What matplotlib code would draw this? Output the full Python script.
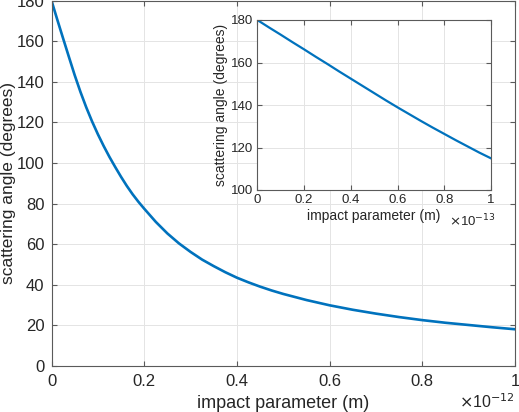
import matplotlib
matplotlib.use("Agg")
import matplotlib.pyplot as plt

# ---- data ----
# main panel: impact parameter in units of 1e-12 m, scattering angle in degrees
b_main = [0, 0.0125, 0.025, 0.0375, 0.05, 0.0625, 0.075, 0.0875, 0.1, 0.1125,
          0.125, 0.1375, 0.15, 0.1625, 0.175, 0.1875, 0.2, 0.225, 0.25, 0.275,
          0.3, 0.325, 0.35, 0.375, 0.4, 0.425, 0.45, 0.475, 0.5, 0.55, 0.6,
          0.65, 0.7, 0.75, 0.8, 0.85, 0.9, 0.95, 1.0]
theta_main = [180, 170.6, 161.4, 152.3, 143.3, 135.0, 127.4, 120.5, 114.2,
              108.4, 103.0, 98.0, 93.2, 88.7, 84.6, 80.9, 77.5, 71.0, 65.3,
              60.4, 56.2, 52.4, 49.2, 46.2, 43.5, 41.2, 39.1, 37.2, 35.5, 32.5,
              29.9, 27.7, 25.8, 24.1, 22.6, 21.3, 20.2, 19.1, 18.1]

# inset: impact parameter in units of 1e-13 m
b_inset = [0, 0.05, 0.1, 0.15, 0.2, 0.25, 0.3, 0.35, 0.4, 0.45, 0.5, 0.55,
           0.6, 0.65, 0.7, 0.75, 0.8, 0.85, 0.9, 0.95, 1.0]
theta_inset = [180, 176.5, 173.1, 169.6, 166.2, 162.7, 159.3, 155.8, 152.4,
               149.0, 145.6, 142.2, 138.9, 135.7, 132.5, 129.4, 126.4, 123.4,
               120.5, 117.6, 114.9]

main_xticks = [0, 0.2, 0.4, 0.6, 0.8, 1]
main_xticklabels = ["0", "0.2", "0.4", "0.6", "0.8", "1"]
main_yticks = [0, 20, 40, 60, 80, 100, 120, 140, 160, 180]
inset_xticks = [0, 0.2, 0.4, 0.6, 0.8, 1]
inset_xticklabels = ["0", "0.2", "0.4", "0.6", "0.8", "1"]
inset_yticks = [100, 120, 140, 160, 180]

xlabel = "impact parameter (m)"
ylabel = "scattering angle (degrees)"

# ---- style ----
plt.rcParams['font.family'] = ['Liberation Sans', 'DejaVu Sans']
LINE = '#0072BD'
TXT = '#262626'
SPINE = '#5a5a5a'
GRID = '#e4e4e4'

W, H = 519, 412
fig = plt.figure(figsize=(W / 100, H / 100), dpi=100)


def style(ax, fs):
    for s in ax.spines.values():
        s.set_color(SPINE)
        s.set_linewidth(0.8)
    ax.tick_params(direction='in', which='both', top=True, right=True,
                   colors=SPINE, labelcolor=TXT, labelsize=fs,
                   length=3.5, width=0.8)
    ax.grid(True, color=GRID, linewidth=0.7)
    ax.set_axisbelow(True)


# main axes
ax = fig.add_axes([51.5 / W, 1 - 366 / H, (515 - 51.5) / W, (366 - 0.6) / H])
ax.plot(b_main, theta_main, color=LINE, linewidth=1.9, solid_joinstyle='round')
ax.set_xlim(0, 1)
ax.set_ylim(0, 180)
ax.set_xticks(main_xticks)
ax.set_xticklabels(main_xticklabels)
ax.set_yticks(main_yticks)
style(ax, 12)
ax.tick_params(axis='x', pad=6)
ax.tick_params(axis='y', pad=5)
ax.set_xlabel(xlabel, fontsize=13, color=TXT, labelpad=4)
ax.set_ylabel(ylabel, fontsize=12.5, color=TXT)
ax.yaxis.set_label_coords((16.5 - 51.5) / (515 - 51.5), 0.5)
fig.text(515 / W, 1 - 402 / H, r"$\times$10$^{-12}$", fontsize=11.5,
         color=TXT, ha='right', va='center')

# inset axes
axi = fig.add_axes([257.3 / W, 1 - 190 / H, (491 - 257.3) / W, (190 - 20) / H])
axi.set_facecolor('white')
axi.plot(b_inset, theta_inset, color=LINE, linewidth=1.6, solid_joinstyle='round')
axi.set_xlim(0, 1)
axi.set_ylim(100, 180)
axi.set_xticks(inset_xticks)
axi.set_xticklabels(inset_xticklabels)
axi.set_yticks(inset_yticks)
style(axi, 9.5)
axi.tick_params(axis='x', pad=3)
axi.tick_params(axis='y', pad=3)
axi.set_xlabel(xlabel, fontsize=10, color=TXT, labelpad=2)
axi.set_ylabel(ylabel, fontsize=10, color=TXT, labelpad=2)
fig.text(449 / W, 1 - 221 / H, r"$\times$10$^{-13}$", fontsize=9.5,
         color=TXT, ha='left', va='center')

fig.savefig("out.png", dpi=100)
